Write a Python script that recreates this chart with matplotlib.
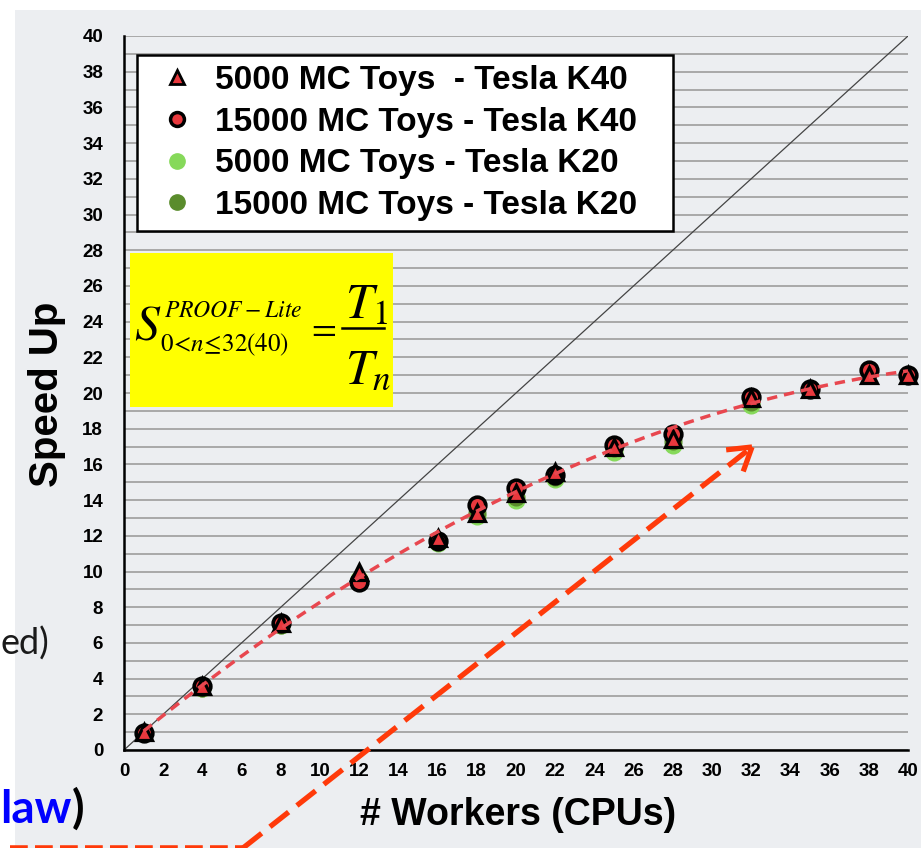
import matplotlib.pyplot as plt
from matplotlib.lines import Line2D
from matplotlib.patches import Rectangle
import numpy as np

plt.rcParams['font.family'] = ['Liberation Sans', 'DejaVu Sans']
plt.rcParams['mathtext.fontset'] = 'stix'

W, H = 921, 848

# PROOF-Lite speed-up vs number of workers
workers_k40 = [1, 4, 8, 12, 16, 18, 20, 22, 25, 28, 32, 35, 38, 40]
toys5000_k40 = [1.0, 3.6, 7.1, 10.0, 11.9, 13.3, 14.4, 15.6, 17.0, 17.4, 19.7, 20.2, 21.0, 21.0]
toys15000_k40 = [0.95, 3.6, 7.1, 9.4, 11.7, 13.7, 14.7, 15.4, 17.1, 17.7, 19.8, 20.2, 21.3, 21.0]

workers_k20 = [1, 4, 8, 12, 16, 18, 20, 22, 25, 28, 32]
toys5000_k20 = [0.95, 3.5, 7.0, 9.6, 11.6, 13.1, 14.0, 15.2, 16.7, 17.1, 19.3]
toys15000_k20 = [0.95, 3.5, 7.0, 9.5, 11.7, 13.3, 14.2, 15.3, 16.9, 17.3, 19.5]

labels = ['5000 MC Toys  - Tesla K40', '15000 MC Toys - Tesla K40',
          '5000 MC Toys - Tesla K20', '15000 MC Toys - Tesla K20']
x_ticks = list(range(0, 41, 2))
y_ticks = list(range(0, 41, 2))

BG = '#eceef1'
RED = '#e8383d'
LIGHT_GREEN = '#86d95a'
DARK_GREEN = '#5a8c2c'
ARROW = '#ff3a0a'


def fig_xy(px, py):
    # pixel position (origin top-left) -> figure fraction
    return px / W, 1 - py / H


def pix_text(px, py, s, **kw):
    return fig.text(*fig_xy(px, py), s, **kw)


fig = plt.figure(figsize=(W / 100, H / 100), dpi=100, facecolor='white')
fig.patches.append(Rectangle(fig_xy(15, H), 1, 1 - 10 / H, transform=fig.transFigure,
                             facecolor=BG, edgecolor='none', zorder=-10))

ax = fig.add_axes([124 / W, 1 - 750 / H, 784 / W, 714 / H])
ax.set_facecolor('none')
ax.set_xlim(0, 40)
ax.set_ylim(0, 40)

ax.set_xticks(x_ticks)
ax.set_yticks(y_ticks)
ax.set_yticks(np.arange(0, 41, 1), minor=True)
ax.grid(axis='y', which='both', color='#a3a3a3', lw=1.3)
ax.set_axisbelow(True)
ax.tick_params(which='both', length=0)
ax.tick_params(axis='y', pad=15, labelsize=13.5)
ax.tick_params(axis='x', pad=9, labelsize=13.5)
for lab in ax.get_xticklabels() + ax.get_yticklabels():
    lab.set_fontweight('bold')
for side in ['top', 'right']:
    ax.spines[side].set_visible(False)
for side in ['left', 'bottom']:
    ax.spines[side].set_linewidth(1.8)
    ax.spines[side].set_color('black')

# ideal linear scaling
ax.plot([0, 40], [0, 40], color='#444444', lw=0.9, zorder=2)

ms = 12
ax.plot(workers_k20, toys5000_k20, 'o', ms=ms, mfc=LIGHT_GREEN, mec=LIGHT_GREEN, zorder=3, clip_on=False)
ax.plot(workers_k20, toys15000_k20, 'o', ms=ms, mfc=DARK_GREEN, mec=DARK_GREEN, zorder=3, clip_on=False)
ax.plot(workers_k40, toys15000_k40, 'o', ms=ms, mfc=RED, mec='black', mew=2.6, zorder=4, clip_on=False)
ax.plot(workers_k40, toys5000_k40, '^', ms=11, mfc=RED, mec='black', mew=2.3, zorder=5, clip_on=False)

# polynomial trend through the K40 points
mean_k40 = (np.array(toys5000_k40) + np.array(toys15000_k40)) / 2
coeff = np.polyfit(workers_k40, mean_k40, 3)
x_fit = np.linspace(1, 40, 200)
ax.plot(x_fit, np.polyval(coeff, x_fit), color='#e8474f', lw=2.5, dashes=(3, 2), zorder=6)

handles = [
    Line2D([], [], ls='none', marker='^', ms=10, mfc=RED, mec='black', mew=2),
    Line2D([], [], ls='none', marker='o', ms=10, mfc=RED, mec='black', mew=2.5),
    Line2D([], [], ls='none', marker='o', ms=11, mfc=LIGHT_GREEN, mec=LIGHT_GREEN),
    Line2D([], [], ls='none', marker='o', ms=11, mfc=DARK_GREEN, mec=DARK_GREEN),
]
leg_box = (13 / 784, (750 - 220) / 714, (673 - 137) / 784, 165 / 714)
leg = ax.legend(handles, labels, loc='upper left', bbox_to_anchor=leg_box, mode='expand',
                borderaxespad=0, prop={'weight': 'bold', 'size': 24}, labelspacing=0.32,
                handletextpad=0.25, handlelength=1.8, borderpad=0.3, fancybox=False,
                framealpha=1, edgecolor='black')
leg.get_frame().set_linewidth(1.8)
leg.set_zorder(10)

# speed-up definition box
box = Rectangle(((130 - 124) / 784, (750 - 407) / 714), 263 / 784, 154 / 714,
                transform=ax.transAxes, facecolor='#ffff00', edgecolor='none', zorder=9)
ax.add_patch(box)
pix_text(134, 340, r'$S$', fontsize=36, va='baseline', zorder=10)
pix_text(164, 317, r'$PROOF-Lite$', fontsize=17, va='baseline', zorder=10)
pix_text(160, 351, r'$0\!<\!n\!\leq\!32(40)$', fontsize=18, va='baseline', zorder=10)
pix_text(321, 329, r'$=$', fontsize=26, ha='center', va='center', zorder=10)
fig.add_artist(Line2D(*zip(fig_xy(342, 328), fig_xy(384, 328)), transform=fig.transFigure,
                      color='black', lw=1.8, zorder=10))
pix_text(345, 318, r'$T_1$', fontsize=36, va='baseline', zorder=10)
pix_text(345, 383, r'$T_n$', fontsize=36, va='baseline', zorder=10)

pix_text(47, 394, 'Speed Up', rotation=90, ha='center', va='center',
         fontsize=29, fontweight='bold')
pix_text(518, 815, '# Workers (CPUs)', ha='center', va='center',
         fontsize=27, fontweight='bold')

# slide text around the chart
pix_text(1, 655, 'ed)', ha='left', va='baseline', fontsize=26,
         family=['Lato', 'DejaVu Sans'], color='#1a1a1a')
law = pix_text(0, 823, 'law', ha='left', va='baseline', fontsize=33,
               family=['Lato', 'DejaVu Sans'], fontweight='bold', color='#0000ff')
ax.annotate(')', xy=(1, 0), xycoords=law, ha='left', va='bottom', fontsize=33,
            family=['Lato', 'DejaVu Sans'], fontweight='bold', color='black',
            annotation_clip=False)

# dashed red arrow
fig.add_artist(Line2D(*zip(fig_xy(10, 848), fig_xy(243, 848)), transform=fig.transFigure,
                      color=ARROW, lw=4, dashes=(3.2, 1.3)))
start = np.array([243, 848.0])
tip = np.array([752, 447.0])
fig.add_artist(Line2D(*zip(fig_xy(*start), fig_xy(*tip)), transform=fig.transFigure,
                      color=ARROW, lw=3.8, dashes=(4.5, 2)))
back = (start - tip) / np.linalg.norm(start - tip)
for ang in (np.radians(32), np.radians(-32)):
    rot = np.array([[np.cos(ang), -np.sin(ang)], [np.sin(ang), np.cos(ang)]])
    end = tip + 26 * rot @ back
    fig.add_artist(Line2D(*zip(fig_xy(*tip), fig_xy(*end)), transform=fig.transFigure,
                          color=ARROW, lw=3.8, solid_capstyle='butt'))

fig.savefig('out.png', dpi=100, facecolor=fig.get_facecolor())
